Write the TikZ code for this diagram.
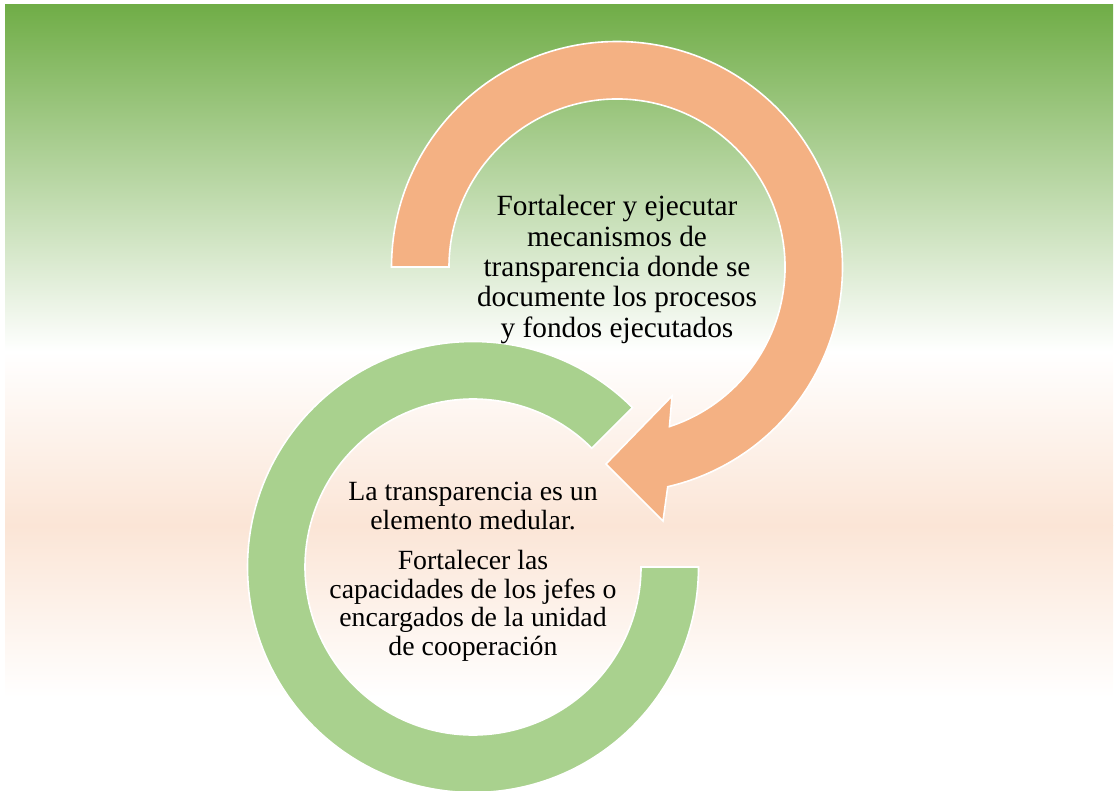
\documentclass[tikz,border=0pt]{standalone}
\usepackage{fontspec}
\setmainfont{Liberation Serif}
\usetikzlibrary{calc}
\definecolor{bggreen}{HTML}{70AD47}
\definecolor{bgpeach}{HTML}{FBE5D6}
\definecolor{arcorange}{HTML}{F4B183}
\definecolor{arcgreen}{HTML}{A9D18E}
\tikzset{
  arcshape/.style={draw=white, line width=1.6pt, line join=miter},
  bigtext/.style={align=center, inner sep=0pt, text=black,
    font=\fontsize{29.3}{30.3}\selectfont},
  smalltext/.style={align=center, inner sep=0pt, text=black,
    font=\fontsize{27.8}{28.6}\selectfont}
}
\begin{document}
\begin{tikzpicture}[x=1pt,y=-1pt]
\useasboundingbox (0,0) rectangle (1118,791);
% background bands
\shade[top color=bggreen, bottom color=white] (5,5) rectangle (1113,351.5);
\shade[top color=white, bottom color=bgpeach] (5,351) rectangle (1113,525.5);
\shade[top color=bgpeach, bottom color=white] (5,525) rectangle (1113,698);
% centres
\coordinate (oc) at (617,267);
\coordinate (gc) at (473,567);
% green circular band
\fill[arcgreen, arcshape] ($(gc)+(0:225.5)$) arc[start angle=0, end angle=315, radius=225.5]
  -- ($(gc)+(315:168)$) arc[start angle=315, end angle=0, radius=168] -- cycle;
% orange circular arrow
\coordinate (lb) at (663,521);
\coordinate (tip) at (606,464);
\coordinate (ub) at (672,396);
\fill[arcorange, arcshape] ($(oc)+(180:225.5)$) arc[start angle=180, end angle=437, radius=225.5]
  -- (lb) -- (tip) -- (ub)
  -- ($(oc)+(431.8:168)$) arc[start angle=431.8, end angle=180, radius=168] -- cycle;
% texts
\node[bigtext] (t1) at (617,269.5) {Fortalecer y ejecutar\\mecanismos de\\transparencia donde se\\documente los procesos\\y fondos ejecutados};
\node[smalltext] (t2) at (473,572) {La transparencia es un\\elemento medular.\\[11.5pt]Fortalecer las\\capacidades de los jefes o\\encargados de la unidad\\de cooperación};
\end{tikzpicture}
\end{document}
